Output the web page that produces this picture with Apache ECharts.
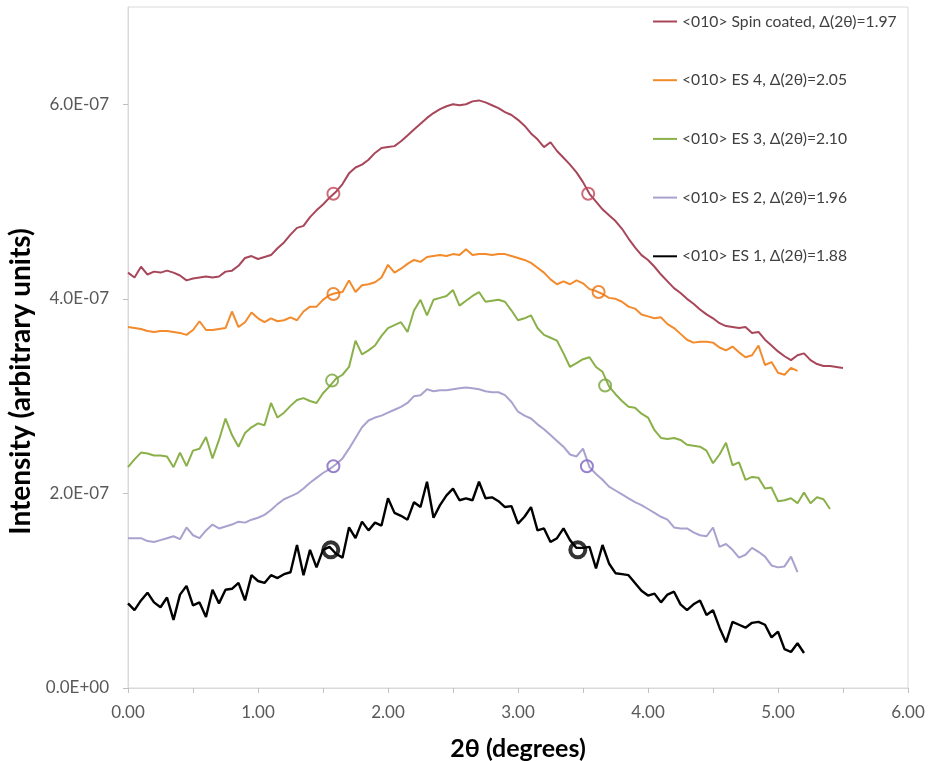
<!DOCTYPE html>
<html>
<head>
<meta charset="utf-8">
<script src="https://cdn.jsdelivr.net/npm/echarts@6/dist/echarts.min.js"></script>
<style>html,body{margin:0;padding:0;background:#fff}#c{width:929px;height:761px}</style>
</head>
<body>
<div id="c"></div>
<script>
const UNIT = 1e-7;
const twoTheta = [
0.00,0.05,0.10,0.15,0.20,0.25,0.30,0.35,0.40,0.45,
0.50,0.55,0.60,0.65,0.70,0.75,0.80,0.85,0.90,0.95,
1.00,1.05,1.10,1.15,1.20,1.25,1.30,1.35,1.40,1.45,
1.50,1.55,1.60,1.65,1.70,1.75,1.80,1.85,1.90,1.95,
2.00,2.05,2.10,2.15,2.20,2.25,2.30,2.35,2.40,2.45,
2.50,2.55,2.60,2.65,2.70,2.75,2.80,2.85,2.90,2.95,
3.00,3.05,3.10,3.15,3.20,3.25,3.30,3.35,3.40,3.45,
3.50,3.55,3.60,3.65,3.70,3.75,3.80,3.85,3.90,3.95,
4.00,4.05,4.10,4.15,4.20,4.25,4.30,4.35,4.40,4.45,
4.50,4.55,4.60,4.65,4.70,4.75,4.80,4.85,4.90,4.95,
5.00,5.05,5.10,5.15,5.20,5.25,5.30,5.35,5.40,5.45,
5.50];

const seriesNames = [
  "<010> Spin coated, \u0394(2\u03b8)=1.97",
  "<010> ES 4, \u0394(2\u03b8)=2.05",
  "<010> ES 3, \u0394(2\u03b8)=2.10",
  "<010> ES 2, \u0394(2\u03b8)=1.96",
  "<010> ES 1, \u0394(2\u03b8)=1.88"
];

// intensities in units of 1E-07
const spinCoated = [
4.27,4.22,4.33,4.25,4.28,4.27,4.29,4.27,4.24,4.19,
4.21,4.22,4.23,4.22,4.23,4.28,4.29,4.34,4.42,4.44,
4.41,4.43,4.45,4.52,4.58,4.66,4.73,4.75,4.84,4.91,
4.97,5.04,5.10,5.18,5.29,5.35,5.38,5.43,5.50,5.55,
5.56,5.57,5.62,5.68,5.74,5.80,5.86,5.91,5.95,5.98,
6.00,5.99,6.00,6.03,6.04,6.02,5.99,5.96,5.92,5.89,
5.84,5.78,5.70,5.64,5.56,5.61,5.52,5.45,5.38,5.30,
5.20,5.08,5.00,4.92,4.86,4.80,4.72,4.62,4.53,4.45,
4.40,4.33,4.25,4.18,4.11,4.06,4.00,3.95,3.89,3.84,
3.80,3.75,3.72,3.71,3.70,3.71,3.65,3.66,3.58,3.52,
3.46,3.41,3.37,3.42,3.44,3.37,3.33,3.31,3.31,3.30,
3.29];
const es4 = [
3.71,3.70,3.69,3.67,3.66,3.67,3.67,3.66,3.65,3.63,
3.68,3.77,3.68,3.68,3.69,3.70,3.87,3.71,3.76,3.86,
3.80,3.76,3.80,3.77,3.78,3.81,3.78,3.87,3.92,3.92,
3.99,4.04,4.06,4.07,4.19,4.07,4.14,4.15,4.17,4.22,
4.35,4.27,4.31,4.36,4.40,4.38,4.43,4.44,4.45,4.44,
4.46,4.45,4.51,4.45,4.46,4.46,4.45,4.46,4.46,4.44,
4.42,4.40,4.37,4.32,4.27,4.20,4.15,4.18,4.15,4.19,
4.16,4.10,4.08,4.05,4.01,4.00,3.97,3.92,3.90,3.84,
3.82,3.80,3.81,3.74,3.70,3.64,3.58,3.55,3.56,3.56,
3.55,3.50,3.47,3.51,3.45,3.40,3.42,3.52,3.32,3.35,
3.24,3.22,3.29,3.26];
const es3 = [
2.27,2.35,2.42,2.41,2.39,2.39,2.38,2.27,2.42,2.28,
2.44,2.46,2.58,2.36,2.55,2.77,2.60,2.48,2.62,2.68,
2.72,2.70,2.93,2.78,2.83,2.90,2.96,2.98,2.95,2.93,
3.03,3.10,3.18,3.22,3.30,3.57,3.43,3.47,3.52,3.62,
3.70,3.73,3.76,3.66,3.88,3.99,3.83,3.99,4.01,4.03,
4.09,3.93,3.98,4.03,4.07,3.97,3.98,3.99,3.97,3.88,
3.78,3.80,3.83,3.70,3.63,3.60,3.57,3.44,3.30,3.34,
3.38,3.40,3.30,3.25,3.10,3.02,2.95,2.89,2.88,2.82,
2.78,2.65,2.57,2.56,2.57,2.55,2.50,2.49,2.48,2.44,
2.31,2.40,2.52,2.29,2.32,2.14,2.17,2.16,2.05,2.06,
1.92,1.93,1.95,1.90,2.01,1.90,1.96,1.94,1.84];
const es2 = [
1.54,1.54,1.54,1.51,1.50,1.52,1.54,1.56,1.53,1.65,
1.57,1.54,1.62,1.68,1.64,1.66,1.68,1.71,1.70,1.73,
1.75,1.78,1.83,1.89,1.94,1.97,2.00,2.05,2.11,2.16,
2.21,2.25,2.30,2.36,2.46,2.57,2.68,2.75,2.78,2.80,
2.83,2.86,2.89,2.93,3.00,3.01,3.07,3.05,3.06,3.06,
3.07,3.08,3.09,3.08,3.07,3.05,3.04,3.04,3.01,2.94,
2.84,2.80,2.77,2.71,2.66,2.60,2.54,2.48,2.40,2.38,
2.46,2.27,2.20,2.14,2.07,2.03,1.99,1.95,1.91,1.88,
1.84,1.80,1.76,1.73,1.65,1.64,1.64,1.60,1.57,1.56,
1.65,1.45,1.48,1.42,1.34,1.37,1.44,1.40,1.35,1.26,
1.24,1.25,1.35,1.19];
const es1 = [
0.87,0.80,0.90,0.98,0.88,0.83,0.93,0.70,0.96,1.05,
0.85,0.88,0.73,1.01,0.87,1.01,1.02,1.08,0.90,1.16,
1.10,1.08,1.16,1.13,1.17,1.19,1.47,1.16,1.42,1.24,
1.42,1.45,1.38,1.34,1.65,1.54,1.71,1.62,1.70,1.67,
1.95,1.80,1.77,1.73,1.91,1.86,2.12,1.75,1.88,1.98,
2.05,1.93,1.95,1.93,2.12,1.95,1.96,1.92,1.86,1.87,
1.69,1.76,1.86,1.62,1.64,1.50,1.54,1.64,1.52,1.44,
1.44,1.45,1.23,1.47,1.28,1.18,1.17,1.16,1.08,1.00,
0.95,0.97,0.88,0.96,0.99,0.86,0.80,0.86,0.90,0.75,
0.80,0.62,0.47,0.68,0.65,0.62,0.67,0.68,0.65,0.52,
0.58,0.40,0.37,0.46,0.36];

// half-maximum markers (2θ, intensity in 1E-07)
const halfX_spin = [1.58, 3.54], halfY_spin = [5.08, 5.08];
const halfX_es4  = [1.58, 3.62], halfY_es4  = [4.05, 4.07];
const halfX_es3  = [1.57, 3.67], halfY_es3  = [3.16, 3.11];
const halfX_es2  = [1.58, 3.53], halfY_es2  = [2.28, 2.28];
const halfX_es1  = [1.56, 3.46], halfY_es1  = [1.42, 1.42];

const lineColors   = ['#A8465A', '#F38A2C', '#8AB04A', '#AAA2CE', '#000000'];
const markerColors = ['#C4455A', '#E8710F', '#77A23A', '#8063C0', '#000000'];
const lineWidths   = [2, 2, 2, 2, 2.4];

const allVals = [spinCoated, es4, es3, es2, es1];
const halfXs = [halfX_spin, halfX_es4, halfX_es3, halfX_es2, halfX_es1];
const halfYs = [halfY_spin, halfY_es4, halfY_es3, halfY_es2, halfY_es1];

const FONT = 'Lato';
const series = [];
allVals.forEach((vals, i) => {
  series.push({
    name: seriesNames[i],
    type: 'line',
    data: vals.map((v, k) => [twoTheta[k], v * UNIT]),
    showSymbol: false,
    symbol: 'none',
    lineStyle: { color: lineColors[i], width: lineWidths[i] },
    itemStyle: { color: lineColors[i] },
    z: 2,
    animation: false
  });
});
allVals.forEach((vals, i) => {
  series.push({
    name: 'half-' + i,
    type: 'scatter',
    data: halfXs[i].map((x, k) => [x, halfYs[i][k] * UNIT]),
    symbol: 'circle',
    symbolSize: i === 4 ? 15 : 12,
    itemStyle: { color: 'rgba(255,255,255,0)', borderColor: markerColors[i], borderWidth: i === 4 ? 4 : 2 },
    z: 3,
    animation: false
  });
});

function expFmt(v) {
  if (Math.abs(v) < 1e-20) return '0.0E+00';
  const s = v.toExponential(1).toUpperCase();
  const m = s.match(/^(-?[\d.]+)E([+-])(\d+)$/);
  if (!m) return s;
  return m[1] + 'E' + m[2] + (m[3].length < 2 ? '0' + m[3] : m[3]);
}

const chart = echarts.init(document.getElementById('c'), null, { renderer: 'canvas' });
chart.setOption({
  backgroundColor: '#ffffff',
  animation: false,
  grid: { left: 128, right: 21, top: 7, bottom: 73, show: true, borderColor: '#D9D9D9', borderWidth: 1, containLabel: false, outerBoundsMode: 'none' },
  legend: {
    data: seriesNames,
    orient: 'vertical',
    left: 653,
    top: 13.5,
    padding: 0,
    icon: 'rect',
    itemWidth: 24,
    itemHeight: 2,
    itemGap: 42.7,
    textStyle: { fontFamily: FONT, fontSize: 15.7, color: '#404040', lineHeight: 16 },
    itemTextGap: 0
  },
  xAxis: {
    type: 'value',
    min: 0, max: 6, interval: 1,
    name: '2\u03b8 (degrees)',
    nameLocation: 'middle',
    nameGap: 48,
    nameTextStyle: { fontFamily: FONT, fontSize: 25, fontWeight: 'bold', color: '#000' },
    axisLine: { show: true, lineStyle: { color: '#D9D9D9', width: 1 } },
    axisTick: { show: true, length: 5, lineStyle: { color: '#BFBFBF' } },
    minorTick: { show: true, splitNumber: 2, length: 5, lineStyle: { color: '#BFBFBF' } },
    splitLine: { show: false },
    axisLabel: { fontFamily: FONT, fontSize: 17, color: '#595959', margin: 16, formatter: v => v.toFixed(2) }
  },
  yAxis: {
    type: 'value',
    min: 0, max: 7 * UNIT, interval: 2 * UNIT,
    name: 'Intensity (arbitrary units)',
    nameLocation: 'middle',
    nameGap: 86,
    nameTextStyle: { fontFamily: FONT, fontSize: 28, fontWeight: 'bold', color: '#000', padding: [0, 68, 0, 0] },
    axisLine: { show: true, lineStyle: { color: '#D9D9D9', width: 1 } },
    axisTick: { show: true, length: 5, lineStyle: { color: '#BFBFBF' } },
    splitLine: { show: false },
    axisLabel: { fontFamily: FONT, fontSize: 17, color: '#595959', margin: 19, showMaxLabel: false, formatter: expFmt }
  },
  series: series
});
</script>
</body>
</html>
